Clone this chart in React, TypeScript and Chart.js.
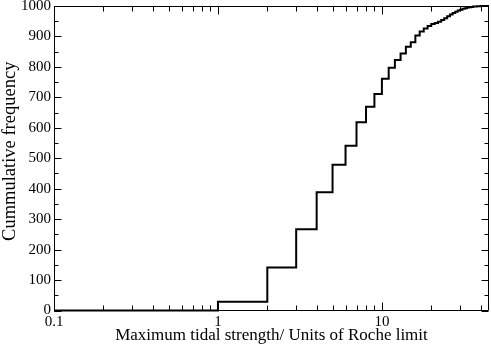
import React, { useEffect, useRef } from "react";
import { Chart, registerables } from "chart.js";

Chart.register(...registerables);

// Maximum tidal strength (units of Roche limit) at which the cumulative count steps up
const strengthValues = [
  0.1, 1, 2, 3, 4, 5, 6, 7, 8, 9, 10, 11, 12, 13, 14, 15, 16, 17, 18, 19, 20,
  21, 22, 23, 24, 25, 26, 27, 28, 29, 30, 31, 32, 33, 34, 35, 36, 37, 38, 39,
  40, 41, 42, 43, 44, 45,
];
// Cumulative frequency reached at each strength value
const cumulativeCounts = [
  0, 29, 141, 267, 388, 479, 541, 618, 669, 711, 761, 797, 823, 844, 866, 881,
  903, 916, 926, 934, 941, 944, 948, 954, 960, 966, 972, 977, 981, 985, 988,
  991, 993, 995, 996, 997, 998, 998, 999, 999, 1000, 1000, 1000, 1000, 1000,
  1000,
];

const xMajorTicks = [0.1, 1, 10];
const xMinorTicks = [
  0.2, 0.3, 0.4, 0.5, 0.6, 0.7, 0.8, 0.9, 2, 3, 4, 5, 6, 7, 8, 9, 20, 30, 40,
];
const yMajorTicks = [0, 100, 200, 300, 400, 500, 600, 700, 800, 900, 1000];
const yMinorTicks = [50, 150, 250, 350, 450, 550, 650, 750, 850, 950];

const xTitle = "Maximum tidal strength/ Units of Roche limit";
const yTitle = "Cummulative frequency";

const SERIF = "'Liberation Serif', 'DejaVu Serif', serif";

const frameTicks = {
  id: "frameTicks",
  afterDatasetsDraw(chart: any) {
    const { ctx, chartArea, scales } = chart;
    const xs = scales.x;
    const ys = scales.y;
    const L = Math.round(chartArea.left) + 0.5;
    const R = Math.round(chartArea.right) - 0.5;
    const T = Math.round(chartArea.top) + 0.5;
    const B = Math.round(chartArea.bottom) - 0.5;
    ctx.save();
    ctx.strokeStyle = "#000";
    ctx.lineWidth = 1;
    ctx.beginPath();
    ctx.rect(L, T, R - L, B - T);
    const vTick = (v: number, len: number) => {
      const p = Math.round(xs.getPixelForValue(v)) + 0.5;
      ctx.moveTo(p, B);
      ctx.lineTo(p, B - len);
      ctx.moveTo(p, T);
      ctx.lineTo(p, T + len);
    };
    const hTick = (v: number, len: number) => {
      const p = Math.round(ys.getPixelForValue(v)) + 0.5;
      ctx.moveTo(L, p);
      ctx.lineTo(L + len, p);
      ctx.moveTo(R, p);
      ctx.lineTo(R - len, p);
    };
    xMajorTicks.forEach((v) => vTick(v, 8));
    xMinorTicks.forEach((v) => vTick(v, 5));
    yMajorTicks.forEach((v) => hTick(v, 7));
    yMinorTicks.forEach((v) => hTick(v, 4));
    ctx.stroke();

    // y-axis title (rotated), placed slightly above the plot centre as in the original
    ctx.translate(10, chartArea.top + (chartArea.bottom - chartArea.top) / 2 - 7);
    ctx.rotate(-Math.PI / 2);
    ctx.fillStyle = "#000";
    ctx.font = `18.5px ${SERIF}`;
    ctx.textAlign = "center";
    ctx.textBaseline = "middle";
    ctx.fillText(yTitle, 0, 0);
    ctx.restore();
  },
};

export default function App() {
  const canvasRef = useRef<HTMLCanvasElement | null>(null);

  useEffect(() => {
    document.body.style.margin = "0";
    const canvas = canvasRef.current;
    if (!canvas) return;
    const points = strengthValues.map((x, i) => ({ x, y: cumulativeCounts[i] }));
    const chart = new Chart(canvas, {
      type: "line",
      data: {
        datasets: [
          {
            data: points,
            stepped: "before",
            borderColor: "#000",
            borderWidth: 2,
            pointRadius: 0,
            fill: false,
            clip: false,
          } as any,
        ],
      },
      options: {
        responsive: false,
        animation: false,
        devicePixelRatio: 1,
        layout: { padding: { top: 6, right: 2, left: 0, bottom: 0 } },
        plugins: { legend: { display: false }, tooltip: { enabled: false } },
        scales: {
          x: {
            type: "logarithmic",
            min: 0.1,
            max: 45,
            grid: { display: false, drawTicks: false },
            border: { display: false },
            afterBuildTicks: (scale: any) => {
              scale.ticks = xMajorTicks.map((v) => ({ value: v }));
            },
            afterFit: (scale: any) => {
              scale.height = 35.5;
              scale.paddingLeft = 0;
              scale.paddingRight = 0;
            },
            ticks: {
              autoSkip: false,
              maxRotation: 0,
              padding: 3,
              color: "#000",
              font: { family: SERIF, size: 15 },
              callback: (v: any) => String(v),
            },
            title: {
              display: true,
              text: xTitle,
              color: "#000",
              font: { family: SERIF, size: 17 },
              padding: 0,
            },
          },
          y: {
            type: "linear",
            min: 0,
            max: 1000,
            grid: { display: false, drawTicks: false },
            border: { display: false },
            afterBuildTicks: (scale: any) => {
              scale.ticks = yMajorTicks.map((v) => ({ value: v }));
            },
            afterFit: (scale: any) => {
              scale.width = 54;
              scale.paddingTop = 0;
              scale.paddingBottom = 0;
            },
            ticks: {
              padding: 3,
              color: "#000",
              font: { family: SERIF, size: 15 },
              callback: (v: any) => String(v),
            },
            title: { display: false },
          },
        },
      },
      plugins: [frameTicks],
    } as any);
    return () => chart.destroy();
  }, []);

  return (
    <div style={{ width: 491, height: 346, background: "#fff" }}>
      <canvas ref={canvasRef} width={491} height={346} style={{ display: "block" }} />
    </div>
  );
}
